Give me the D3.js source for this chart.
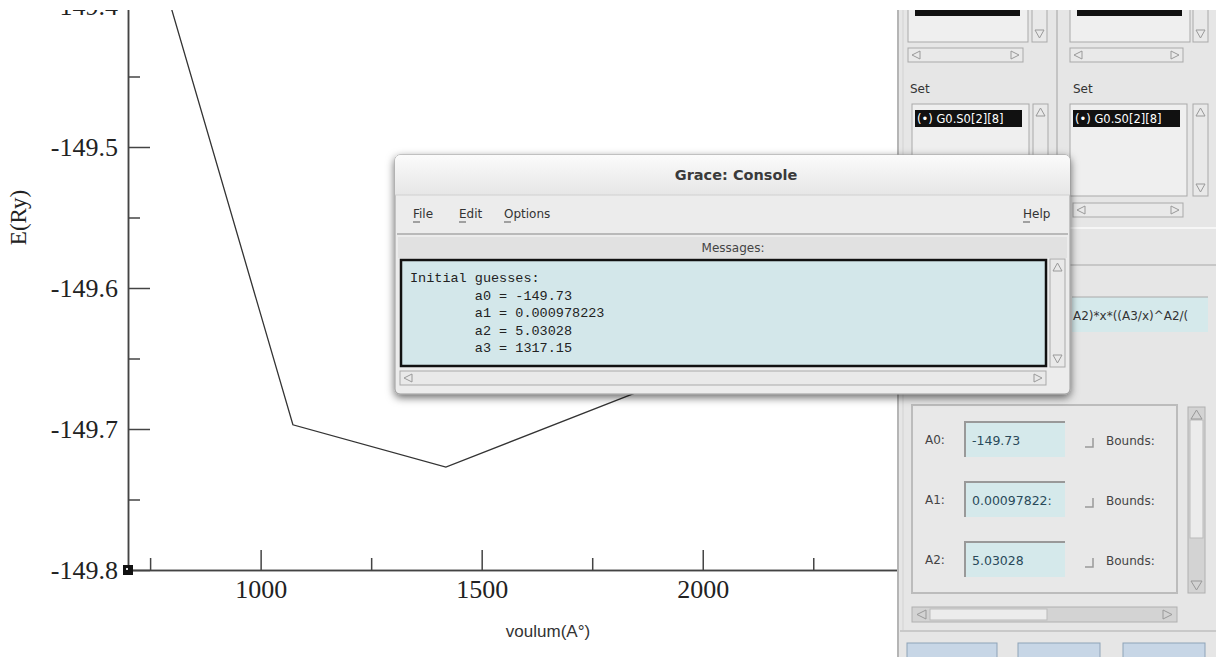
<!DOCTYPE html>
<html lang="en">
<head>
<meta charset="UTF-8">
<title>E(Ry) vs voulum</title>
<style>
  body { margin: 0; background: #fff; overflow: hidden; }
  svg { display: block; }
  .tick text { font-family: "Liberation Serif", "DejaVu Serif", serif; font-size: 26px; fill: #222; }
  .ui { font-family: "DejaVu Sans", "Liberation Sans", sans-serif; fill: #333; }
  .mono { font-family: "Liberation Mono", "DejaVu Sans Mono", monospace; fill: #222; }
</style>
</head>
<body>
<script src="https://d3js.org/d3.v7.min.js"></script>
<script>
// data
var volume = [750, 1073, 1419, 1900, 2300, 2550];
var energy = [-149.35, -149.697, -149.727, -149.668, -149.61, -149.57];

var xTicks = [1000, 1500, 2000, 2500];
var xMinor = [750, 1250, 1750, 2250];
var yTicks = [-149.8, -149.7, -149.6, -149.5, -149.4];
var yMinor = [-149.75, -149.65, -149.55, -149.45];

// console + fit dialog texts
var guesses = ["Initial guesses:", "        a0 = -149.73", "        a1 = 0.000978223", "        a2 = 5.03028", "        a3 = 1317.15"];
var menus = [["File", 413], ["Edit", 459], ["Options", 504], ["Help", 1023]];
var params = ["A0:", "A1:", "A2:"];
var paramValues = ["-149.73", "0.00097822:", "5.03028"];
var formula = "A2)*x*((A3/x)^A2/(";
var setItem = "(\u2022) G0.S0[2][8]";

var width = 1216, height = 657;

var svg = d3.select("body").append("svg")
    .attr("width", width)
    .attr("height", height);

svg.append("rect").attr("width", width).attr("height", height).attr("fill", "#fff");

var defs = svg.append("defs");
var shadow = defs.append("filter").attr("id", "shadow")
    .attr("x", "-10%").attr("y", "-10%").attr("width", "120%").attr("height", "130%");
shadow.append("feDropShadow").attr("dx", 0).attr("dy", 3).attr("stdDeviation", 4)
    .attr("flood-color", "#000").attr("flood-opacity", 0.6);
var grad = defs.append("linearGradient").attr("id", "titlebar").attr("x1", 0).attr("y1", 0).attr("x2", 0).attr("y2", 1);
grad.append("stop").attr("offset", "0%").attr("stop-color", "#fbfbfb");
grad.append("stop").attr("offset", "100%").attr("stop-color", "#e6e6e6");

// ---------- the graph ----------
var x = d3.scaleLinear().domain([700, 2600]).range([128, 968]);
var y = d3.scaleLinear().domain([-149.8, -149.3]).range([570, -135]);

var plot = svg.append("g");

function styleAxis(g) {
    g.select(".domain").attr("stroke", "#444").attr("stroke-width", 1.5);
    g.selectAll(".tick line").attr("stroke", "#444").attr("stroke-width", 1.5);
}

plot.append("g")
    .attr("transform", "translate(0," + y(-149.8) + ")")
    .call(d3.axisBottom(x).tickValues(xMinor).tickSize(-12).tickSizeOuter(0).tickFormat(""))
    .call(styleAxis);

plot.append("g")
    .attr("transform", "translate(0," + y(-149.8) + ")")
    .call(d3.axisBottom(x).tickValues(xTicks).tickSize(-20).tickSizeOuter(0).tickPadding(10)
        .tickFormat(d3.format("d")))
    .call(styleAxis);

plot.append("g")
    .attr("transform", "translate(" + x(700) + ",0)")
    .call(d3.axisLeft(y).tickValues(yMinor).tickSize(-12).tickSizeOuter(0).tickFormat(""))
    .call(styleAxis);

plot.append("g")
    .attr("transform", "translate(" + x(700) + ",0)")
    .call(d3.axisLeft(y).tickValues(yTicks).tickSize(-22).tickSizeOuter(0).tickPadding(10)
        .tickFormat(function(d) { return d.toFixed(1); }))
    .call(styleAxis);

plot.selectAll(".tick text").attr("fill", "#222").attr("stroke", "none");

var pts = volume.map(function(v, i) { return [v, energy[i]]; });
plot.append("path")
    .datum(pts)
    .attr("fill", "none")
    .attr("stroke", "#333")
    .attr("stroke-width", 1.3)
    .attr("d", d3.line().x(function(d) { return x(d[0]); }).y(function(d) { return y(d[1]); }));

// little black corner marker
plot.append("rect")
    .attr("x", x(700) - 5).attr("y", y(-149.8) - 5)
    .attr("width", 10).attr("height", 10).attr("fill", "#111");
plot.append("rect")
    .attr("x", x(700) - 2).attr("y", y(-149.8) - 2)
    .attr("width", 2).attr("height", 2).attr("fill", "#ddd");

plot.append("text")
    .attr("transform", "translate(18," + y(-149.55) + ") rotate(-90)")
    .attr("text-anchor", "middle")
    .attr("dy", "0.35em")
    .style("font-family", "'Liberation Serif', serif")
    .style("font-size", "23px")
    .attr("fill", "#222")
    .text("E(Ry)");

plot.append("text")
    .attr("x", x(1650)).attr("y", 637)
    .attr("text-anchor", "middle")
    .style("font-family", "'Liberation Sans', Arial, sans-serif")
    .style("font-size", "17px")
    .attr("fill", "#333")
    .text("voulum(A\u00b0)");

// ---------- right side fit dialog ----------
var panel = svg.append("g").attr("class", "ui");
panel.append("rect").attr("x", 897).attr("y", 0).attr("width", 319).attr("height", 657).attr("fill", "#e6e6e6");
panel.append("line").attr("x1", 898).attr("x2", 898).attr("y1", 0).attr("y2", 657).attr("stroke", "#b5b5b5").attr("stroke-width", 2);
panel.append("line").attr("x1", 903).attr("x2", 903).attr("y1", 0).attr("y2", 630).attr("stroke", "#d2d2d2");
panel.append("line").attr("x1", 1057).attr("x2", 1057).attr("y1", 0).attr("y2", 228).attr("stroke", "#c4c4c4").attr("stroke-width", 2);
panel.append("line").attr("x1", 1060).attr("x2", 1216).attr("y1", 228).attr("y2", 228).attr("stroke", "#f6f6f6").attr("stroke-width", 2);
panel.append("line").attr("x1", 1060).attr("x2", 1216).attr("y1", 265).attr("y2", 265).attr("stroke", "#bdbdbd").attr("stroke-width", 1.5);
panel.append("line").attr("x1", 900).attr("x2", 1216).attr("y1", 631).attr("y2", 631).attr("stroke", "#c9c9c9").attr("stroke-width", 2);

function listBox(g, x0, y0, w, h) {
    g.append("rect").attr("x", x0).attr("y", y0).attr("width", w).attr("height", h)
        .attr("fill", "#efefef").attr("stroke", "#a9a9a9");
}
function vScroll(g, x0, y0, h) {
    g.append("rect").attr("x", x0).attr("y", y0).attr("width", 15).attr("height", h)
        .attr("fill", "#e9e9e9").attr("stroke", "#a9a9a9");
    g.append("path").attr("d", "M" + (x0 + 3) + "," + (y0 + 12) + "l4.5,-8l4.5,8z")
        .attr("fill", "none").attr("stroke", "#999");
    g.append("path").attr("d", "M" + (x0 + 3) + "," + (y0 + h - 12) + "l4.5,8l4.5,-8z")
        .attr("fill", "none").attr("stroke", "#999");
}
function hScroll(g, x0, y0, w) {
    g.append("rect").attr("x", x0).attr("y", y0).attr("width", w).attr("height", 14)
        .attr("fill", "#e9e9e9").attr("stroke", "#a9a9a9");
    g.append("path").attr("d", "M" + (x0 + 12) + "," + (y0 + 3) + "l-8,4l8,4z")
        .attr("fill", "none").attr("stroke", "#999");
    g.append("path").attr("d", "M" + (x0 + w - 12) + "," + (y0 + 3) + "l8,4l-8,4z")
        .attr("fill", "none").attr("stroke", "#999");
}

// upper lists (cut off)
[[908, 1032], [1070, 1193]].forEach(function(c) {
    listBox(panel, c[0], -4, 120, 46);
    panel.append("rect").attr("x", c[0] + 7).attr("y", -4).attr("width", 105).attr("height", 20).attr("fill", "#111");
    vScroll(panel, c[1], -4, 46);
});
hScroll(panel, 908, 48, 115);
hScroll(panel, 1070, 48, 113);

[[910, 912, 1033], [1073, 1070, 1193]].forEach(function(c) {
    panel.append("text").attr("x", c[0]).attr("y", 93).style("font-size", "12px").text("Set");
    listBox(panel, c[1], 104, 117, 92);
    panel.append("rect").attr("x", c[1] + 3).attr("y", 110).attr("width", 107).attr("height", 17).attr("fill", "#111");
    panel.append("text").attr("x", c[1] + 5).attr("y", 123).style("font-size", "11.5px").attr("fill", "#fff").text(setItem);
    vScroll(panel, c[2], 104, 92);
});
hScroll(panel, 1073, 203, 110);

// formula field
panel.append("rect").attr("x", 1072).attr("y", 297).attr("width", 136).attr("height", 35).attr("fill", "#d5e9eb");
panel.append("line").attr("x1", 1072).attr("x2", 1208).attr("y1", 297).attr("y2", 297).attr("stroke", "#aaa");
panel.append("text").attr("x", 1073).attr("y", 320).style("font-size", "12px").attr("fill", "#333").text(formula);

// parameter frame
panel.append("rect").attr("x", 912).attr("y", 405).attr("width", 265).attr("height", 188)
    .attr("fill", "#e8e8e8").attr("stroke", "#bcbcbc").attr("stroke-width", 2);
params.forEach(function(p, i) {
    var fy = 422 + i * 60;
    panel.append("text").attr("x", 925).attr("y", fy + 22).style("font-size", "12px").attr("fill", "#444").text(p);
    panel.append("rect").attr("x", 965).attr("y", fy).attr("width", 100).attr("height", 35).attr("fill", "#d5e9eb");
    panel.append("path").attr("d", "M965," + (fy + 35) + "V" + fy + "H1065").attr("fill", "none").attr("stroke", "#999").attr("stroke-width", 2);
    panel.append("text").attr("x", 972).attr("y", fy + 23).style("font-size", "12.5px").attr("fill", "#2a4a5a").text(paramValues[i]);
    panel.append("path").attr("d", "M1085," + (fy + 25) + "H1093V" + (fy + 16)).attr("fill", "none").attr("stroke", "#999").attr("stroke-width", 1.5);
    panel.append("text").attr("x", 1106).attr("y", fy + 23).style("font-size", "12px").attr("fill", "#444").text("Bounds:");
});
panel.append("rect").attr("x", 1188).attr("y", 407).attr("width", 17).attr("height", 186).attr("fill", "#d3d3d3").attr("stroke", "#b0b0b0");
panel.append("rect").attr("x", 1190).attr("y", 420).attr("width", 13).attr("height", 118).attr("fill", "#ececec").attr("stroke", "#bbb");
panel.append("path").attr("d", "M1191,419l5.5,-9l5.5,9z").attr("fill", "none").attr("stroke", "#999");
panel.append("path").attr("d", "M1191,581l5.5,9l5.5,-9z").attr("fill", "none").attr("stroke", "#999");
panel.append("rect").attr("x", 912).attr("y", 607).attr("width", 265).attr("height", 15).attr("fill", "#d3d3d3").attr("stroke", "#b0b0b0");
panel.append("rect").attr("x", 930).attr("y", 609).attr("width", 117).attr("height", 11).attr("fill", "#ececec").attr("stroke", "#bbb");
panel.append("path").attr("d", "M926,610l-9,4.5l9,4.5z").attr("fill", "none").attr("stroke", "#999");
panel.append("path").attr("d", "M1163,610l9,4.5l-9,4.5z").attr("fill", "none").attr("stroke", "#999");

[[907, 90], [1018, 82], [1123, 82]].forEach(function(b) {
    panel.append("rect").attr("x", b[0]).attr("y", 643).attr("width", b[1]).attr("height", 20)
        .attr("fill", "#c7d6e6").attr("stroke", "#8ea3b8");
});

// ---------- Grace: Console window ----------
var con = svg.append("g").attr("class", "ui");
con.append("rect").attr("x", 395).attr("y", 155).attr("width", 675).attr("height", 239).attr("rx", 5)
    .attr("fill", "#ececec").attr("stroke", "#9a9a9a").attr("filter", "url(#shadow)");
con.append("path").attr("d", "M395,195V160a5,5 0 0 1 5,-5H1065a5,5 0 0 1 5,5V195Z").attr("fill", "url(#titlebar)");
con.append("line").attr("x1", 395).attr("x2", 1070).attr("y1", 195).attr("y2", 195).attr("stroke", "#d0d0d0");
con.append("text").attr("x", 736).attr("y", 180).attr("text-anchor", "middle")
    .style("font-size", "14.5px").style("font-weight", "bold").attr("fill", "#3a3a3a").text("Grace: Console");

menus.forEach(function(m) {
    con.append("text").attr("x", m[1]).attr("y", 218).style("font-size", "12px").attr("fill", "#333").text(m[0]);
    con.append("line").attr("x1", m[1]).attr("x2", m[1] + 7).attr("y1", 222).attr("y2", 222).attr("stroke", "#555");
});
con.append("line").attr("x1", 397).attr("x2", 1068).attr("y1", 234).attr("y2", 234).attr("stroke", "#b9b9b9").attr("stroke-width", 2);
con.append("rect").attr("x", 398).attr("y", 237).attr("width", 669).attr("height", 21).attr("fill", "#e1e1e1");
con.append("text").attr("x", 733).attr("y", 252).attr("text-anchor", "middle").style("font-size", "12px").attr("fill", "#444").text("Messages:");

con.append("rect").attr("x", 401).attr("y", 260).attr("width", 645).attr("height", 106)
    .attr("fill", "#d3e7ea").attr("stroke", "#111").attr("stroke-width", 2.5);
con.selectAll("text.msg").data(guesses).enter().append("text")
    .attr("class", "msg mono")
    .attr("x", 410)
    .attr("y", function(d, i) { return 282 + i * 17.5; })
    .attr("xml:space", "preserve")
    .style("white-space", "pre")
    .style("font-size", "13.5px")
    .attr("fill", "#333")
    .text(function(d) { return d; });

vScroll(con, 1050, 259, 108);
hScroll(con, 400, 371, 646);

// blank strip along the top edge of the screenshot
svg.append("rect").attr("x", 0).attr("y", 0).attr("width", width).attr("height", 10).attr("fill", "#fff");
</script>
</body>
</html>
